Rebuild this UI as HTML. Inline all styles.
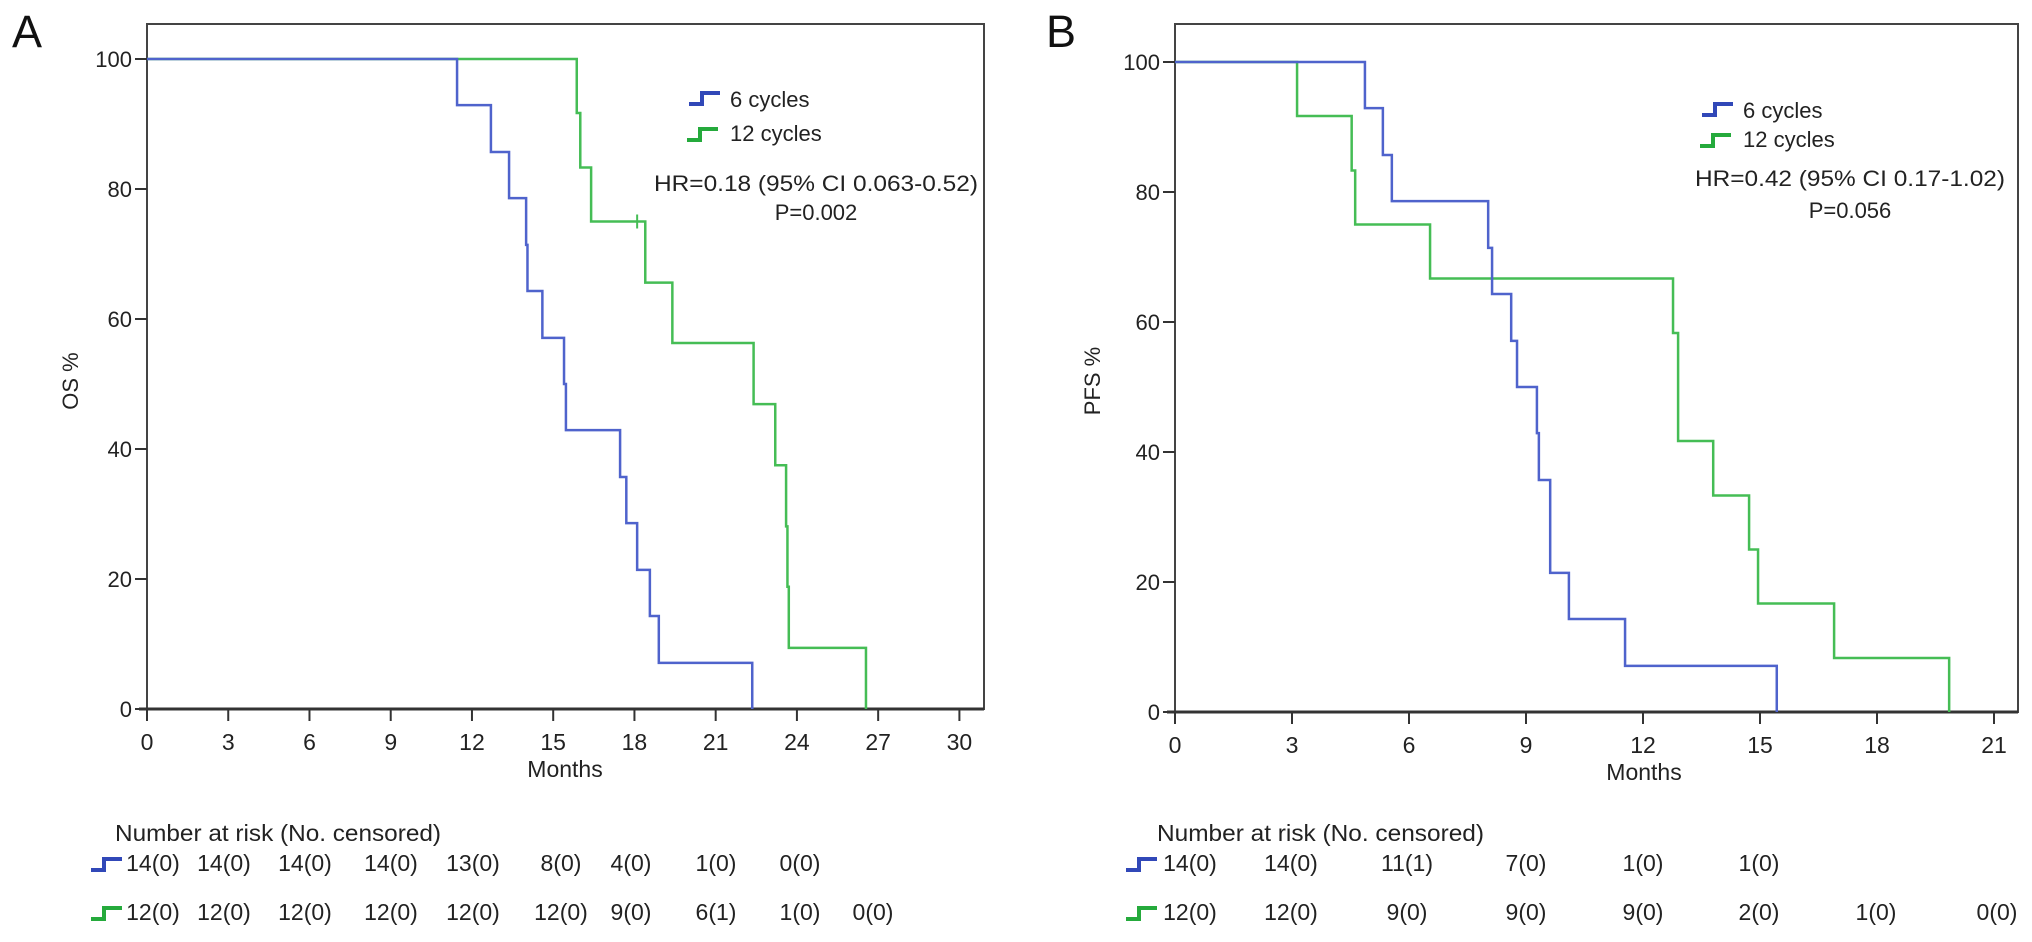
<!DOCTYPE html>
<html><head><meta charset="utf-8"><style>
html,body{margin:0;padding:0;background:#fff;}
svg{display:block;font-family:"Liberation Sans",Arial,sans-serif;}
.n{font-family:"Liberation Sans Narrow","Liberation Sans",sans-serif;}
</style></head><body>
<svg id="fig" width="2032" height="942" viewBox="0 0 2032 942" xmlns="http://www.w3.org/2000/svg"></svg>
<script>
// ---- Panel A data (OS) ----
const aBlueTimes = [11.45,12.7,13.37,14.0,14.05,14.6,15.4,15.47,17.47,17.7,18.1,18.57,18.9,22.35];
const aBlueVals  = [92.9,85.7,78.6,71.4,64.3,57.1,50,42.9,35.7,28.6,21.4,14.3,7.1,0];
const aGreenTimes = [15.87,16.0,16.4,18.4,19.4,22.4,23.2,23.6,23.65,23.7,26.55];
const aGreenVals  = [91.7,83.3,75,65.6,56.3,46.9,37.5,28.1,18.8,9.4,0];
const aGreenCensorTimes = [18.1];
const aXTicks = [0,3,6,9,12,15,18,21,24,27,30];
const aRiskBlue  = ["14(0)","14(0)","14(0)","14(0)","13(0)","8(0)","4(0)","1(0)","0(0)"];
const aRiskGreen = ["12(0)","12(0)","12(0)","12(0)","12(0)","12(0)","9(0)","6(1)","1(0)","0(0)"];
// ---- Panel B data (PFS) ----
const bBlueTimes = [4.87,5.33,5.56,8.03,8.13,8.62,8.77,9.28,9.33,9.62,10.1,11.54,15.43];
const bBlueVals  = [92.9,85.7,78.6,71.4,64.3,57.1,50,42.9,35.7,21.4,14.3,7.1,0];
const bGreenTimes = [3.13,4.53,4.62,6.54,12.77,12.9,13.8,14.72,14.95,16.9,19.85];
const bGreenVals  = [91.7,83.3,75,66.7,58.3,41.7,33.3,25,16.7,8.3,0];
const bXTicks = [0,3,6,9,12,15,18,21];
const bRiskBlue  = ["14(0)","14(0)","11(1)","7(0)","1(0)","1(0)"];
const bRiskGreen = ["12(0)","12(0)","9(0)","9(0)","9(0)","2(0)","1(0)","0(0)"];
const yTicks = [0,20,40,60,80,100];

const NS="http://www.w3.org/2000/svg";
const svg=document.getElementById('fig');
function el(tag,attrs,parent){const e=document.createElementNS(NS,tag);for(const k in attrs)e.setAttribute(k,attrs[k]);(parent||svg).appendChild(e);return e;}
function txt(s,attrs,parent){const e=el('text',attrs,parent);e.textContent=s;return e;}

const BLUE="#4f63cc", GREEN="#45bd55", AX="#333";

function panel(cfg){
  const g=el('g',{});
  
  
  const xs=t=>cfg.x0+t*cfg.pxm, ys=v=>cfg.y0-(v/100)*(cfg.y0-cfg.y100);
  const fr=el('rect',{x:cfg.x0,y:cfg.top,width:cfg.right-cfg.x0,height:cfg.y0-cfg.top,fill:'none',stroke:'#444','stroke-width':2},g);
  
  
  yTicks.forEach(v=>{
    const y=ys(v);
    const l=el('line',{x1:cfg.x0-12,x2:cfg.x0,y1:y,y2:y,stroke:AX,'stroke-width':2},g);
    
    
    const t=txt(String(v),{x:cfg.x0-15,y:y+8,'text-anchor':'end','font-size':22,fill:'#222'},g);
    
    
  });
  cfg.xticks.forEach(v=>{
    const x=xs(v);
    const l=el('line',{x1:x,x2:x,y1:cfg.y0,y2:cfg.y0+12,stroke:AX,'stroke-width':2},g);
    
    
    const t=txt(String(v),{x:x,y:cfg.y0+41,'text-anchor':'middle','font-size':23,fill:'#222',class:'n'},g);
    
    
  });
  const xa=el('line',{x1:cfg.x0-8,x2:cfg.right,y1:cfg.y0,y2:cfg.y0,stroke:AX,'stroke-width':3},g);
  
  
  const xt=txt('Months',{x:cfg.monthsX,y:cfg.y0+68,'text-anchor':'middle','font-size':23,fill:'#222',class:'n'},g);
  
  
  const yt=txt(cfg.ytitle,{x:0,y:0,'text-anchor':'middle','font-size':22,fill:'#222',transform:`translate(${cfg.ytX},381) rotate(-90)`},g);
  
  
  const pl=txt(cfg.letter,{x:cfg.letterX,y:47,'font-size':45,fill:'#111'},g);
  
  
  function curve(times,vals,color,name){
    let d=`M${xs(0)},${ys(100)}`, prev=100;
    times.forEach((t,i)=>{d+=` L${xs(t)},${ys(prev)} L${xs(t)},${ys(vals[i])}`;prev=vals[i];});
    const p=el('path',{d:d,fill:'none',stroke:color,'stroke-width':2.5},g);
    
    
  }
  curve(cfg.gt,cfg.gv,GREEN,'curve-12-cycles');
  curve(cfg.bt,cfg.bv,BLUE,'curve-6-cycles');
  (cfg.censor||[]).forEach(t=>{
    let lv=100; cfg.gt.forEach((tt,i)=>{if(tt<=t)lv=cfg.gv[i];});
    const c=el('line',{x1:xs(t),x2:xs(t),y1:ys(lv)-7,y2:ys(lv)+7,stroke:GREEN,'stroke-width':2},g);
    
    
  });
  function icon(x,y,color,parent){
    return el('path',{d:`M${x},${y+5} H${x+13} V${y-6} H${x+31}`,fill:'none',stroke:color,'stroke-width':4},parent);
  }
  const lg=el('g',{},g);
  
  
  const i1=icon(cfg.lx,cfg.ly1,'#3148b8',lg);
  
  
  const l1=txt('6 cycles',{x:cfg.lx+41,y:cfg.ly1+8,'font-size':22,fill:'#222'},lg);
  
  
  const i2=icon(cfg.lx-2,cfg.ly2+2,'#25aa3c',lg);
  
  
  const l2=txt('12 cycles',{x:cfg.lx+41,y:cfg.ly2+8,'font-size':22,fill:'#222'},lg);
  
  
  const hr=txt(cfg.hr,{x:cfg.hrX,y:cfg.hrY+8,'font-size':22,fill:'#222',textLength:cfg.hrW,lengthAdjust:'spacingAndGlyphs'},g);
  
  
  const pv=txt(cfg.p,{x:cfg.pX,y:cfg.pY+8,'text-anchor':'middle','font-size':22,fill:'#222'},g);
  
  
  const rt=el('g',{},g);
  
  
  const tt=txt('Number at risk (No. censored)',{x:cfg.rtX,y:841,'font-size':23,fill:'#222',class:'n',textLength:cfg.rtW,lengthAdjust:'spacingAndGlyphs'},rt);
  
  
  const ri1=icon(cfg.riX,865,'#3148b8',rt);
  
  
  const ri2=icon(cfg.riX,914,'#25aa3c',rt);
  
  
  cfg.rb.forEach((s,i)=>{
    const t=txt(s,{x:cfg.rcx[i],y:871,'text-anchor':'middle','font-size':23,fill:'#222',class:'n'},rt);
    
    
  });
  cfg.rg.forEach((s,i)=>{
    const t=txt(s,{x:cfg.rcx[i],y:920,'text-anchor':'middle','font-size':23,fill:'#222',class:'n'},rt);
    
    
  });
}

panel({name:'panel-a-os',letter:'A',letterX:12,x0:147,pxm:27.08,right:984,top:24,y0:709,y100:59,
  xticks:aXTicks,monthsX:565,ytitle:'OS %',ytX:78,
  bt:aBlueTimes,bv:aBlueVals,gt:aGreenTimes,gv:aGreenVals,censor:aGreenCensorTimes,
  lx:689,ly1:99,ly2:133,hr:'HR=0.18 (95% CI 0.063-0.52)',hrX:654,hrY:183,hrW:324,p:'P=0.002',pX:816,pY:212,
  rtX:115,rtW:326,riX:91,rcx:[153,224,305,391,473,561,631,716,800,873],rb:aRiskBlue,rg:aRiskGreen});
panel({name:'panel-b-pfs',letter:'B',letterX:1046,x0:1175,pxm:39.0,right:2018,top:24,y0:712,y100:62,
  xticks:bXTicks,monthsX:1644,ytitle:'PFS %',ytX:1100,
  bt:bBlueTimes,bv:bBlueVals,gt:bGreenTimes,gv:bGreenVals,censor:[],
  lx:1702,ly1:110,ly2:139,hr:'HR=0.42 (95% CI 0.17-1.02)',hrX:1695,hrY:178,hrW:310,p:'P=0.056',pX:1850,pY:210,
  rtX:1157,rtW:327,riX:1126,rcx:[1190,1291,1407,1526,1643,1759,1876,1997],rb:bRiskBlue,rg:bRiskGreen});
</script>
</body></html>
